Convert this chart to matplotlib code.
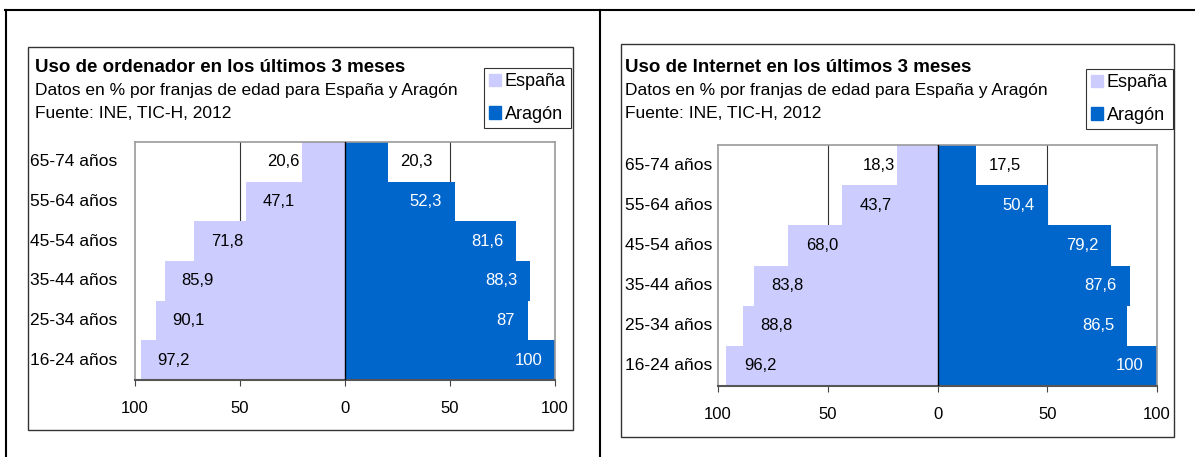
import matplotlib
matplotlib.use("Agg")
import matplotlib.pyplot as plt
import matplotlib.transforms as mtransforms
from matplotlib.patches import Rectangle, Patch
from matplotlib.lines import Line2D
import numpy as np

plt.rcParams["font.family"] = ["Liberation Sans", "DejaVu Sans"]

# ---------------------------------------------------------------------------
# Data (INE, TIC-H, 2012)
# ---------------------------------------------------------------------------
ages = ["16-24 años", "25-34 años", "35-44 años", "45-54 años",
        "55-64 años", "65-74 años"]

ordenador_espana = [97.2, 90.1, 85.9, 71.8, 47.1, 20.6]
ordenador_aragon = [100, 87, 88.3, 81.6, 52.3, 20.3]
ordenador_esp_lbl = ["97,2", "90,1", "85,9", "71,8", "47,1", "20,6"]
ordenador_ara_lbl = ["100", "87", "88,3", "81,6", "52,3", "20,3"]

internet_espana = [96.2, 88.8, 83.8, 68.0, 43.7, 18.3]
internet_aragon = [100, 86.5, 87.6, 79.2, 50.4, 17.5]
internet_esp_lbl = ["96,2", "88,8", "83,8", "68,0", "43,7", "18,3"]
internet_ara_lbl = ["100", "86,5", "87,6", "79,2", "50,4", "17,5"]

tick_vals = [-100, -50, 0, 50, 100]
tick_lbls = ["100", "50", "0", "50", "100"]

C_ESP = "#CCCCFF"
C_ARA = "#0066CC"

W, H = 1195, 457
fig = plt.figure(figsize=(W / 100, H / 100), dpi=100)


def px_rect(x0, y0, x1, y1):
    """pixel box (top-left origin) -> figure fraction [l, b, w, h]"""
    return [x0 / W, (H - y1) / H, (x1 - x0) / W, (y1 - y0) / H]


# outer table lines
for xs, ys in [((5, W), (10, 10)), ((6, 6), (10, H)), ((600, 600), (10, H))]:
    fig.add_artist(Line2D([x / W for x in xs], [1 - y / H for y in ys],
                          color="black", lw=1.5))


def panel(box, plot_box, text_x, cat_x, title, esp, ara, esp_lbl, ara_lbl,
          leg_xy):
    # chart frame
    l, b, w, h = px_rect(*box)
    fig.add_artist(Rectangle((l, b), w, h, transform=fig.transFigure,
                             fill=False, edgecolor="#333333", lw=1.0))

    ax = fig.add_axes(px_rect(*plot_box))
    y = np.arange(len(ages))
    ax.barh(y, [-v for v in esp], height=1.0, color=C_ESP, zorder=2)
    ax.barh(y, ara, height=1.0, color=C_ARA, zorder=2)

    for yi, v, s in zip(y, esp, esp_lbl):
        if v > 35:
            ax.text(-(v - 8), yi, s, ha="left", va="center", fontsize=12,
                    color="black", zorder=3)
        else:
            ax.text(-(v + 1), yi, s, ha="right", va="center", fontsize=12,
                    color="black", zorder=3)
    for yi, v, s in zip(y, ara, ara_lbl):
        if v > 35:
            ax.text(v - 6, yi, s, ha="right", va="center", fontsize=12,
                    color="white", zorder=3)
        else:
            ax.text(v + 6, yi, s, ha="left", va="center", fontsize=12,
                    color="black", zorder=3)

    ax.set_xlim(-100, 100)
    ax.set_ylim(-0.5, len(ages) - 0.5)
    for gx in (-50, 50):
        ax.axvline(gx, color="#333333", lw=0.8, zorder=1)
    ax.axvline(0, color="black", lw=1.0, zorder=3)

    ax.set_xticks(tick_vals)
    ax.set_xticklabels(tick_lbls, fontsize=12)
    ax.set_yticks([])
    ax.tick_params(axis="x", direction="out", length=4, color="#444444",
                   pad=11)
    for side in ("top", "left", "right"):
        ax.spines[side].set_color("#999999")
        ax.spines[side].set_linewidth(1.2)
    ax.spines["bottom"].set_color("#555555")
    ax.spines["bottom"].set_linewidth(1.5)

    # category labels, left aligned near the frame's inner edge
    trans = mtransforms.blended_transform_factory(fig.transFigure, ax.transData)
    for yi, a in zip(y, ages):
        ax.text(cat_x / W, yi, a, transform=trans, ha="left",
                va="center", fontsize=12.5, clip_on=False)

    # header texts
    tx = text_x / W
    fig.text(tx, 1 - 67 / H, title, fontsize=13.5, fontweight="bold",
             va="center", ha="left")
    fig.text(tx, 1 - 90 / H, "Datos en % por franjas de edad para España y Aragón",
             fontsize=12.5, va="center", ha="left")
    fig.text(tx, 1 - 113 / H, "Fuente: INE, TIC-H, 2012",
             fontsize=12.5, va="center", ha="left")

    leg = fig.legend([Patch(color=C_ESP), Patch(color=C_ARA)],
                     ["España", "Aragón"], loc="upper right",
                     bbox_to_anchor=(leg_xy[0] / W, 1 - leg_xy[1] / H),
                     fontsize=13, frameon=True, fancybox=False,
                     edgecolor="black", handlelength=0.65, handleheight=0.7,
                     handletextpad=0.2, borderpad=0.3, labelspacing=0.85,
                     borderaxespad=0)
    leg.get_frame().set_linewidth(0.8)


panel((28, 47, 573, 430), (135, 142, 555, 380), 35, 30,
      "Uso de ordenador en los últimos 3 meses",
      ordenador_espana, ordenador_aragon, ordenador_esp_lbl, ordenador_ara_lbl,
      (571, 68))
panel((621, 44, 1174, 437), (718, 145, 1157, 386), 625, 625,
      "Uso de Internet en los últimos 3 meses",
      internet_espana, internet_aragon, internet_esp_lbl, internet_ara_lbl,
      (1173, 69))

fig.savefig("out.png", dpi=100)
